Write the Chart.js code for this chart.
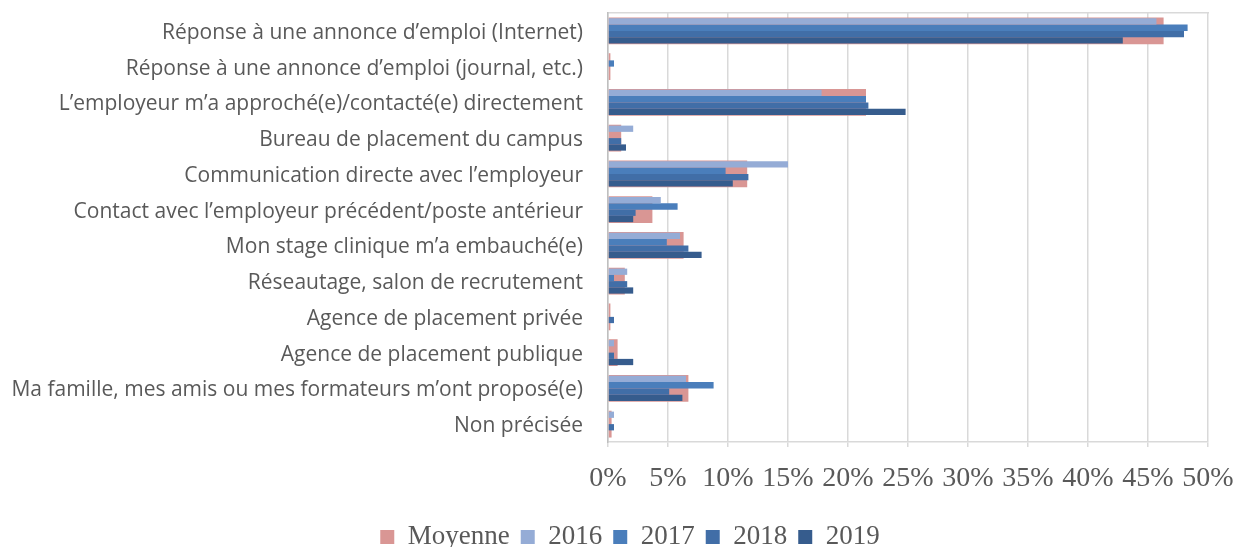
<!DOCTYPE html>
<html>
<head>
<meta charset="utf-8">
<script src="https://cdn.jsdelivr.net/npm/chart.js@4.4.1/dist/chart.umd.min.js"></script>
<style>
  html, body { margin: 0; padding: 0; background: #ffffff; }
  #wrap { width: 1236px; height: 547px; position: relative; }
</style>
</head>
<body>
<div id="wrap"><canvas id="c"></canvas></div>
<script>
const categories = [
  'Réponse à une annonce d’emploi (Internet)',
  'Réponse à une annonce d’emploi (journal, etc.)',
  'L’employeur m’a approché(e)/contacté(e) directement',
  'Bureau de placement du campus',
  'Communication directe avec l’employeur',
  'Contact avec l’employeur précédent/poste antérieur',
  'Mon stage clinique m’a embauché(e)',
  'Réseautage, salon de recrutement',
  'Agence de placement privée',
  'Agence de placement publique',
  'Ma famille, mes amis ou mes formateurs m’ont proposé(e)',
  'Non précisée'
];
const seriesNames = ['Moyenne', '2016', '2017', '2018', '2019'];
const moyenne = [46.3, 0.2, 21.5, 1.1, 11.6, 3.7, 6.3, 1.4, 0.2, 0.8, 6.7, 0.3];
const y2016   = [45.7, 0.0, 17.8, 2.1, 15.0, 4.4, 6.0, 1.6, 0.0, 0.5, 6.5, 0.5];
const y2017   = [48.3, 0.5, 21.5, 0.0, 9.8, 5.8, 4.9, 0.5, 0.0, 0.0, 8.8, 0.0];
const y2018   = [48.0, 0.0, 21.7, 1.1, 11.7, 2.3, 6.7, 1.6, 0.5, 0.5, 5.1, 0.5];
const y2019   = [42.9, 0.0, 24.8, 1.5, 10.4, 2.1, 7.8, 2.1, 0.0, 2.1, 6.2, 0.0];
const xTicks = [0, 5, 10, 15, 20, 25, 30, 35, 40, 45, 50];

const colors = ['#D99694', '#95ACD6', '#4A7EBB', '#416EA7', '#365C8D'];
const gray = '#595959';
const gridGray = '#D9D9D9';

const yearData = [y2016, y2017, y2018, y2019];
const datasets = [{
  label: seriesNames[0],
  data: moyenne,
  backgroundColor: colors[0],
  grouped: false,
  order: 1,
  categoryPercentage: 0.75,
  barPercentage: 1.0
}].concat(yearData.map((d, i) => ({
  label: seriesNames[i + 1],
  data: d,
  backgroundColor: colors[i + 1],
  order: 0,
  categoryPercentage: 0.7,
  barPercentage: 1.0
})));

// shift the legend box so that it is centred like in the reference
const legendShift = {
  id: 'legendShift',
  afterLayout(chart) {
    if (chart.legend) { chart.legend.left += 52; }
  }
};

new Chart(document.getElementById('c'), {
  type: 'bar',
  data: { labels: categories, datasets: datasets },
  plugins: [legendShift],
  options: {
    indexAxis: 'y',
    responsive: true,
    maintainAspectRatio: false,
    animation: false,
    layout: { padding: { left: 0, right: 28, top: 13, bottom: -13.5 } },
    plugins: {
      tooltip: { enabled: false },
      legend: {
        position: 'bottom',
        labels: {
          sort: (a, b) => a.datasetIndex - b.datasetIndex,
          boxWidth: 14,
          boxHeight: 14,
          padding: 11,
          color: gray,
          font: { family: '"Liberation Serif", serif', size: 27 }
        }
      }
    },
    scales: {
      x: {
        position: 'bottom',
        min: 0,
        max: 50,
        afterBuildTicks: s => { s.ticks = xTicks.map(v => ({ value: v })); },
        afterFit: s => { s.height = 70.5; s.paddingLeft = 0; s.paddingRight = 0; },
        ticks: {
          color: gray,
          padding: 15,
          maxRotation: 0,
          font: { family: '"Liberation Serif", serif', size: 28 },
          callback: v => v + '%'
        },
        grid: { color: gridGray, lineWidth: 1.5, tickLength: 5, drawOnChartArea: true },
        border: { display: true, color: gridGray, width: 1.5 }
      },
      x2: {
        axis: 'x',
        position: 'top',
        min: 0,
        max: 50,
        afterFit: s => { s.height = 0; s.paddingLeft = 0; s.paddingRight = 0; },
        ticks: { display: false },
        grid: { display: false, drawTicks: false },
        border: { display: true, color: gridGray, width: 1.5 }
      },
      y: {
        afterFit: s => { s.width = 608; s.paddingTop = 0; s.paddingBottom = 0; },
        ticks: {
          color: gray,
          padding: 25,
          labelOffset: 2,
          autoSkip: false,
          font: { family: '"Open Sans", sans-serif', size: 21 }
        },
        grid: { display: false, drawTicks: false },
        border: { display: true, color: '#BFBFBF', width: 1.5 }
      }
    }
  }
});
</script>
</body>
</html>
